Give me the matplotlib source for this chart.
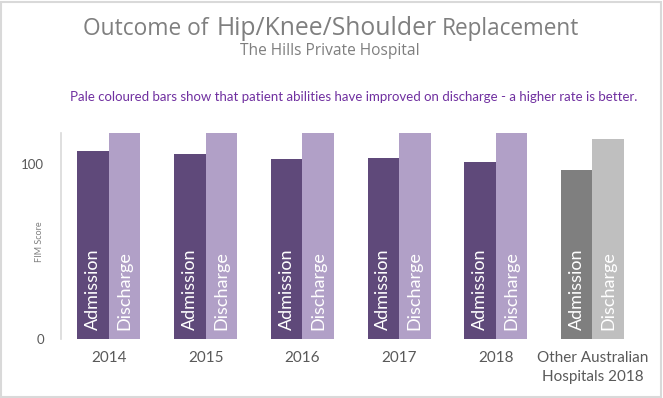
import matplotlib
matplotlib.use("Agg")
import matplotlib.pyplot as plt
from matplotlib.patches import Rectangle
import numpy as np

categories = ["2014", "2015", "2016", "2017", "2018", "Other Australian\nHospitals 2018"]
admission = [107.2, 105.7, 102.8, 103.4, 101.1, 96.6]
discharge = [117.5, 117.5, 117.5, 117.5, 117.5, 114.3]
yticks = [0, 100]

adm_colors = ["#5F497A"] * 5 + ["#7F7F7F"]
dis_colors = ["#B1A0C7"] * 5 + ["#BFBFBF"]

W, H = 663, 398
fig = plt.figure(figsize=(W / 100, H / 100), dpi=100)
ax = fig.add_axes([60.6 / W, 1 - 339 / H, (640.8 - 60.6) / W, (339 - 133) / H])

x = np.arange(len(categories))
bw = 0.326
ax.bar(x - bw / 2, admission, width=bw, color=adm_colors)
ax.bar(x + bw / 2, discharge, width=bw, color=dis_colors)

for xi in x:
    ax.text(xi - bw / 2, 5, "Admission", rotation=90, ha="center", va="bottom",
            color="white", fontsize=13, family="Lato")
    ax.text(xi + bw / 2, 5, "Discharge", rotation=90, ha="center", va="bottom",
            color="white", fontsize=13, family="Lato")

ax.set_xlim(-0.5, len(categories) - 0.5)
ax.set_ylim(0, 117.5)
ax.set_yticks(yticks)
ax.set_yticklabels([str(v) for v in yticks], fontsize=9.5, color="#595959", family="Lato")
ax.set_xticks(x)
ax.set_xticklabels(categories, fontsize=11, color="#595959", family="Lato", linespacing=1.45)
ax.tick_params(axis="x", length=0, pad=9)
ax.tick_params(axis="y", length=0, pad=12)
for s in ["top", "right", "bottom"]:
    ax.spines[s].set_visible(False)
ax.spines["left"].set_color("#D9D9D9")
ax.spines["left"].set_linewidth(1.2)

fig.text(40 / W, 1 - 242 / H, "FIM Score", rotation=90, ha="center", va="center",
         fontsize=6.5, color="#7F7F7F", family="Lato")

# Title pieces with mixed sizes, fitted to their widths in the reference
tc = "#7F7F7F"
renderer = fig.canvas.get_renderer()
pieces = [("Outcome of", 83, 208, 15), ("Hip/Knee/Shoulder", 217, 437, 18),
          ("Replacement", 442, 580, 16)]
for txt, x0, x1, fs in pieces:
    t = fig.text(x0 / W, 1 - 35 / H, txt, fontsize=fs, color=tc, family="Open Sans",
                 ha="left", va="baseline")
    w = t.get_window_extent(renderer).width
    t.set_fontsize(fs * (x1 - x0) / w)

fig.text(330 / W, 1 - 55 / H, "The Hills Private Hospital", fontsize=11.2, color=tc,
         family="Open Sans", ha="center", va="baseline")
fig.text(354 / W, 1 - 97 / H,
         "Pale coloured bars show that patient abilities have improved on discharge - a higher rate is better.",
         fontsize=9.5, color="#7030A0", family="Lato", ha="center", va="center")

fig.patches.append(Rectangle((0.002, 0.003), 0.995, 0.993, transform=fig.transFigure,
                             fill=False, edgecolor="#D9D9D9", linewidth=1.5))

fig.savefig("out.png", dpi=100)
